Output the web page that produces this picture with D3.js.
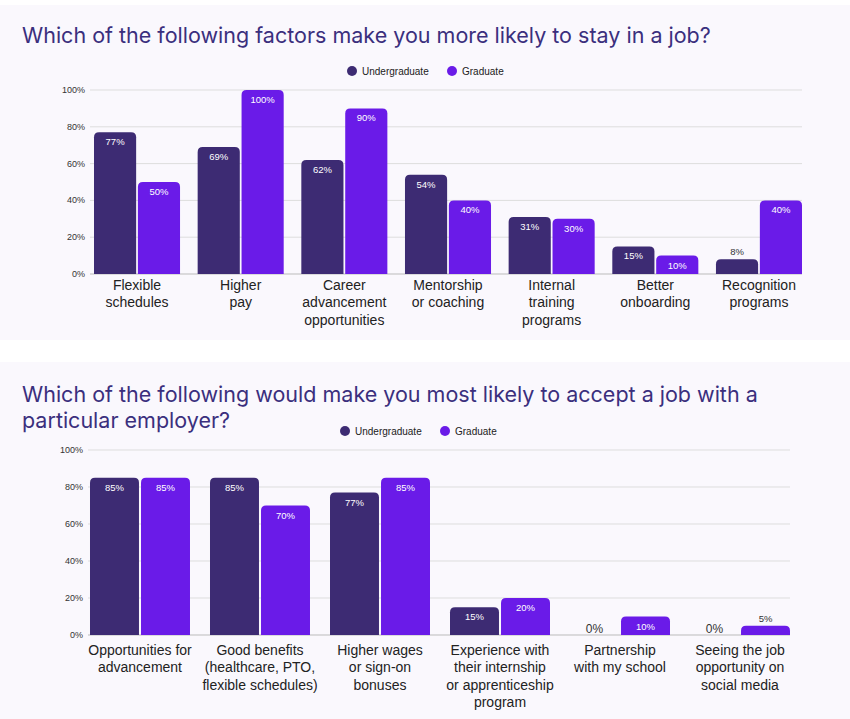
<!DOCTYPE html>
<html>
<head>
<meta charset="utf-8">
<script src="https://cdn.jsdelivr.net/npm/d3@7"></script>
<style>
  body { margin: 0; background: #fff; font-family: "Liberation Sans", Arial, sans-serif; }
</style>
</head>
<body>
<svg id="chart" width="850" height="719"></svg>
<script>
// data
const seriesNames = ["Undergraduate", "Graduate"];
const stayCategories = [
  ["Flexible", "schedules"], ["Higher", "pay"], ["Career", "advancement", "opportunities"],
  ["Mentorship", "or coaching"], ["Internal", "training", "programs"], ["Better", "onboarding"],
  ["Recognition", "programs"]
];
const stayUndergrad = [77, 69, 62, 54, 31, 15, 8];
const stayGrad = [50, 100, 90, 40, 30, 10, 40];

const acceptCategories = [
  ["Opportunities for", "advancement"],
  ["Good benefits", "(healthcare, PTO,", "flexible schedules)"],
  ["Higher wages", "or sign-on", "bonuses"],
  ["Experience with", "their internship", "or apprenticeship", "program"],
  ["Partnership", "with my school"],
  ["Seeing the job", "opportunity on", "social media"]
];
const acceptUndergrad = [85, 85, 77, 15, 0, 0];
const acceptGrad = [85, 70, 85, 20, 10, 5];
const yTicks = [0, 20, 40, 60, 80, 100];

const colors = ["#3d2b73", "#6a1be8"];
const svg = d3.select("#chart");

function roundTop(x, y, w, h, r) {
  r = Math.min(r, h, w / 2);
  return `M${x},${y + h}V${y + r}Q${x},${y} ${x + r},${y}H${x + w - r}Q${x + w},${y} ${x + w},${y + r}V${y + h}Z`;
}

function drawChart(cfg) {
  const g = svg.append("g");
  g.append("rect").attr("x", 0).attr("y", cfg.panel[0]).attr("width", 850)
    .attr("height", cfg.panel[1] - cfg.panel[0]).attr("fill", "#faf8fd");

  cfg.title.forEach((t, i) => {
    g.append("text").attr("x", 22).attr("y", cfg.titleY + i * 26)
      .attr("font-family", "Inter, 'Noto Sans', sans-serif").attr("font-size", 21.5)
      .attr("fill", "#3b2f7d").text(t);
  });

  // legend
  seriesNames.forEach((s, i) => {
    const lx = cfg.legendX + i * 100;
    g.append("circle").attr("cx", lx).attr("cy", cfg.legendY).attr("r", 5).attr("fill", colors[i]);
    g.append("text").attr("x", lx + 10).attr("y", cfg.legendY + 3.5)
      .attr("font-size", 10).attr("fill", "#222").text(s);
  });

  const y = d3.scaleLinear().domain([0, 100]).range([cfg.y0, cfg.y1]);
  const x = d3.scaleBand().domain(d3.range(cfg.cats.length))
    .range(cfg.xr).paddingInner(cfg.pad).paddingOuter(cfg.padOuter);
  const x1 = d3.scaleBand().domain([0, 1]).range([0, x.bandwidth()]).paddingInner(0.04);

  // grid + y labels
  yTicks.forEach(t => {
    g.append("line").attr("x1", cfg.gridX[0]).attr("x2", cfg.gridX[1])
      .attr("y1", y(t)).attr("y2", y(t))
      .attr("stroke", t === 0 ? "#bbb" : "#ddd").attr("stroke-width", 1);
    g.append("text").attr("x", cfg.gridX[0] - 5).attr("y", y(t) + 3)
      .attr("text-anchor", "end").attr("font-size", 9).attr("fill", "#333").text(t + "%");
  });

  const groups = g.selectAll("g.grp").data(cfg.cats).enter().append("g")
    .attr("transform", (d, i) => `translate(${x(i)},0)`);

  [cfg.u, cfg.gr].forEach((vals, s) => {
    groups.each(function (d, i) {
      const v = vals[i];
      const sel = d3.select(this);
      const bx = x1(s), bw = x1.bandwidth();
      if (v > 0) {
        sel.append("path").attr("d", roundTop(bx, y(v), bw, y(0) - y(v), 5)).attr("fill", colors[s]);
      }
      if (v === 0) {
        sel.append("text").attr("x", bx + bw / 2).attr("y", y(0) - 2).attr("text-anchor", "middle")
          .attr("font-size", 12).attr("fill", "#333").text("0%");
      } else if (y(0) - y(v) < 18) {
        sel.append("text").attr("x", bx + bw / 2).attr("y", y(v) - 4).attr("text-anchor", "middle")
          .attr("font-size", 9.5).attr("fill", "#333").text(v + "%");
      } else {
        sel.append("text").attr("x", bx + bw / 2).attr("y", y(v) + 13).attr("text-anchor", "middle")
          .attr("font-size", 9.5).attr("fill", "#fff").text(v + "%");
      }
    });
  });

  groups.each(function (d) {
    const sel = d3.select(this);
    d.forEach((line, j) => {
      sel.append("text").attr("x", x.bandwidth() / 2).attr("y", cfg.labelY + j * 17.3)
        .attr("text-anchor", "middle").attr("font-size", 14).attr("fill", "#222").text(line);
    });
  });
}

drawChart({
  panel: [5, 340], title: ["Which of the following factors make you more likely to stay in a job?"],
  titleY: 43, legendX: 352, legendY: 71,
  cats: stayCategories, u: stayUndergrad, gr: stayGrad,
  y0: 274, y1: 90, xr: [94, 802], pad: 0.17, padOuter: 0, gridX: [90, 802], labelY: 290
});

drawChart({
  panel: [362, 719], title: ["Which of the following would make you most likely to accept a job with a", "particular employer?"],
  titleY: 402, legendX: 345, legendY: 431,
  cats: acceptCategories, u: acceptUndergrad, gr: acceptGrad,
  y0: 635, y1: 450, xr: [80, 800], pad: 0.1667, padOuter: 0.0833, gridX: [88, 790], labelY: 655
});
</script>
</body>
</html>
